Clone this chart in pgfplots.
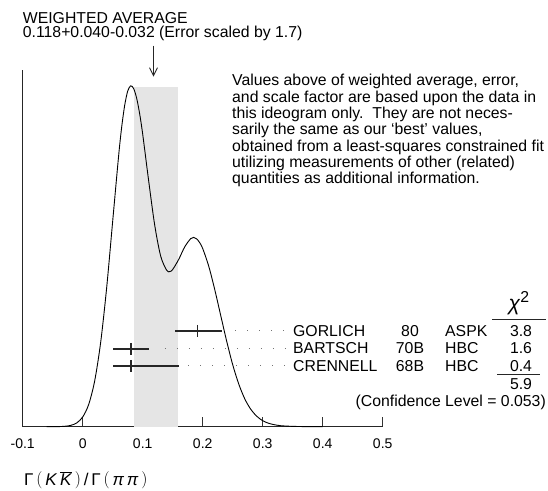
\documentclass[border=0pt]{standalone}
\usepackage{pgfplots}
\pgfplotsset{compat=1.18}
\usepackage{fontspec}
\setmainfont{Liberation Sans}
\usetikzlibrary{arrows.meta}
\newcommand{\tf}{\fontsize{15.8bp}{16.3bp}\selectfont}
\begin{document}
\begin{tikzpicture}
\path[use as bounding box] (0,0) rectangle (548bp,491bp);
\begin{axis}[
  at={(22.7bp,64.3bp)}, anchor=south west,
  x=600bp, y=1bp,
  xmin=-0.1, xmax=0.5, ymin=0, ymax=356.7,
  axis x line*=bottom, axis y line*=left,
  ytick=\empty,
  xtick={-0.1,0,0.1,0.2,0.3,0.4,0.5},
  xticklabels={-0.1,0,0.1,0.2,0.3,0.4,0.5},
  xtick align=inside, major tick length=9.4bp,
  tick style={draw=black!80, line width=0.9bp},
  axis line style={draw=black!85, line width=0.9bp},
  xticklabel style={font=\fontsize{14bp}{16bp}\selectfont, yshift=-8.5bp},
  /pgf/number format/assume math mode=true,
  clip=false,
]
% weighted average band
\addplot[fill=black!10, draw=none] coordinates {(0.086,0) (0.086,340) (0.158,340) (0.158,0)} -- cycle;
% ideogram curve
\addplot[black, line width=0.9bp, smooth, no markers] coordinates {
(-0.06,0) (-0.05,0.03) (-0.04,0.11) (-0.03,0.41) (-0.02,1.31) (-0.01,3.77)
(0,9.7) (0.01,22.3) (0.02,45.9) (0.03,84.6) (0.04,139.4) (0.05,205.7)
(0.06,271.7) (0.065,299.7) (0.07,321.5) (0.075,335.6) (0.08,340.9) (0.085,338.0)
(0.09,328.3) (0.095,312.6) (0.10,292.5) (0.11,245.6) (0.12,201.6) (0.13,170.5)
(0.14,156.4) (0.145,155.1) (0.15,157.2) (0.16,167.3) (0.17,179.8) (0.18,188.1)
(0.185,189.3) (0.19,187.8) (0.195,184.0) (0.20,178.2) (0.21,160.6) (0.22,137.3)
(0.23,111.3) (0.24,85.4) (0.25,62.0) (0.26,42.8) (0.27,28.0) (0.28,17.5)
(0.29,10.5) (0.30,6.0) (0.31,3.4) (0.32,1.9) (0.33,1.0) (0.34,0.6)
(0.35,0.34) (0.36,0.2) (0.37,0.11) (0.38,0.07) (0.39,0.04) (0.40,0.02)};
% error bars
\addplot[black!85, line width=1.1bp, no markers] coordinates {(0.154,95.7) (0.232,95.7)};
\addplot[black!85, line width=1.1bp, no markers] coordinates {(0.051,77.7) (0.1105,77.7)};
\addplot[black!85, line width=1.1bp, no markers] coordinates {(0.051,60.7) (0.1605,60.7)};
\addplot[black!85, line width=1.1bp, only marks, mark=|, mark size=6bp] coordinates {(0.191,95.7) (0.0805,77.7) (0.0805,60.7)};
% dotted leaders
\addplot[black!55, line width=1bp, dash pattern=on 1bp off 11bp, no markers] coordinates {(0.254,95.7) (0.342,95.7)};
\addplot[black!55, line width=1bp, dash pattern=on 1bp off 11bp, no markers] coordinates {(0.137,77.7) (0.342,77.7)};
\addplot[black!55, line width=1bp, dash pattern=on 1bp off 11bp, no markers] coordinates {(0.1755,60.7) (0.342,60.7)};
% arrow
\draw[black!85, line width=0.9bp, -{Straight Barb[length=8bp,width=8bp]}] (axis cs:0.118,381) -- (axis cs:0.118,350);
\end{axis}
% top text
\node[anchor=base west, inner sep=0, font=\tf] at (22.7bp,467.7bp) {WEIGHTED AVERAGE};
\node[anchor=base west, inner sep=0, font=\tf] at (22.7bp,453.3bp) {0.118+0.040-0.032 (Error scaled by 1.7)};
% note paragraph
\begin{scope}[every node/.style={anchor=base west, inner sep=0, font=\tf}]
\node at (232bp,405bp) {Values above of weighted average, error,};
\node at (232bp,388.7bp) {and scale factor are based upon the data in};
\node at (232bp,372.4bp) {this ideogram only.\ \ They are not neces-};
\node at (232bp,356.1bp) {sarily the same as our ‘best’ values,};
\node at (232bp,339.8bp) {obtained from a least-squares constrained fit};
\node at (232bp,323.5bp) {utilizing measurements of other (related)};
\node at (232bp,307.2bp) {quantities as additional information.};
\end{scope}
% measurement table
\begin{scope}[every node/.style={inner sep=0, font=\tf}]
\node[anchor=base west] at (293bp,154.5bp) {GORLICH};
\node[anchor=base west] at (293bp,137bp) {BARTSCH};
\node[anchor=base west] at (293bp,119.7bp) {CRENNELL};
\node[anchor=base] at (410bp,154.5bp) {80};
\node[anchor=base] at (410bp,137bp) {70B};
\node[anchor=base] at (410bp,119.7bp) {68B};
\node[anchor=base west] at (445bp,154.5bp) {ASPK};
\node[anchor=base west] at (445bp,137bp) {HBC};
\node[anchor=base west] at (445bp,119.7bp) {HBC};
\node[anchor=base] at (521bp,154.5bp) {3.8};
\node[anchor=base] at (521bp,137bp) {1.6};
\node[anchor=base] at (521bp,119.7bp) {0.4};
\node[anchor=base] at (521bp,101.5bp) {5.9};
\node[anchor=base east] at (546bp,84.5bp) {(Confidence Level = 0.053)};
\node[anchor=base, font=\fontsize{21bp}{21bp}\selectfont] at (519bp,180bp) {\textit{χ}\raisebox{8bp}{\fontsize{15.8bp}{16bp}\selectfont 2}};
\end{scope}
\draw[black!85, line width=0.9bp] (492bp,172bp) -- (546bp,172bp);
\draw[black!85, line width=0.9bp] (497bp,117bp) -- (540bp,117bp);
% x label
\node[anchor=base west, inner sep=0, font=\fontsize{17bp}{20bp}\selectfont] at (24bp,6bp)
 {Γ\,$\bigl($\,\textit{K}\,$\overline{\mbox{\textit{K}}}$\,$\bigr)$\,/\,Γ\,$\bigl($\,\textit{π}\,\textit{π}\,$\bigr)$};
\end{tikzpicture}
\end{document}
